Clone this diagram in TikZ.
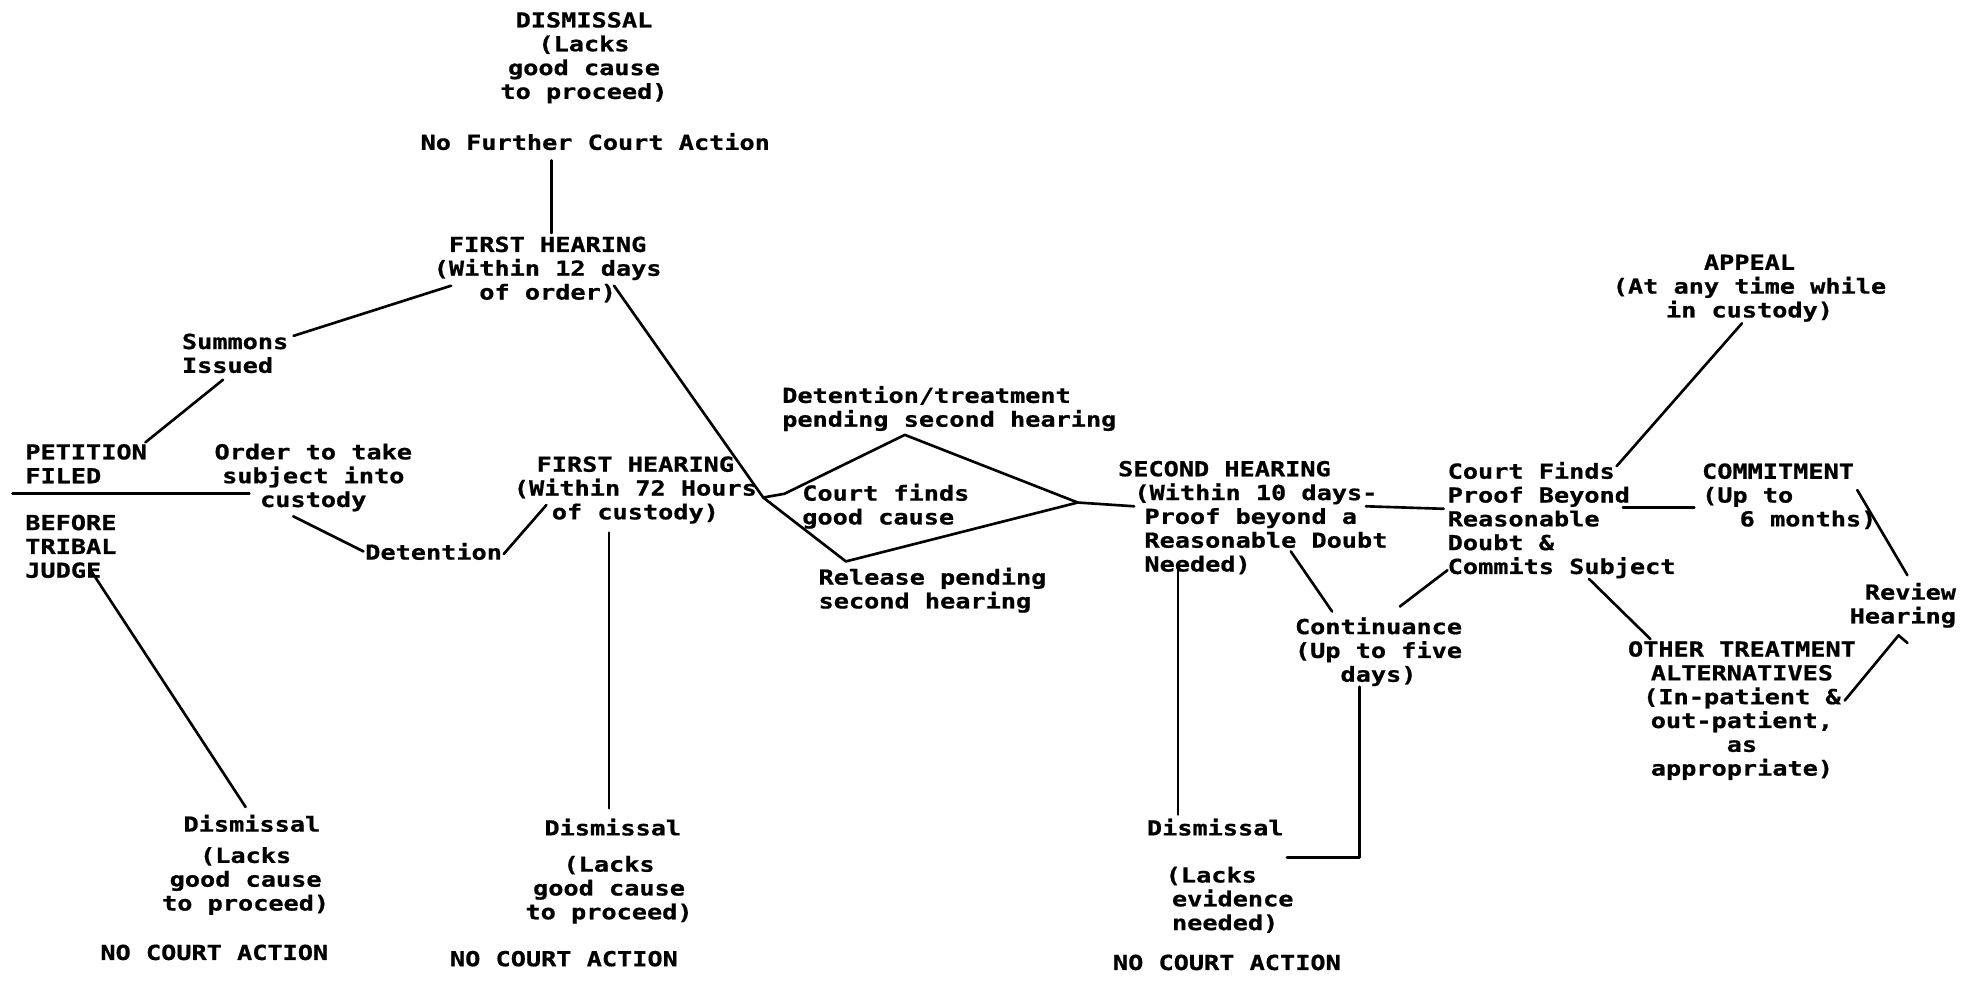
\documentclass[tikz,border=0pt]{standalone}
\usepackage{fontspec}
\newfontfamily\dm{DejaVu Sans Mono}[FakeStretch=1.22, BoldFeatures={FakeBold=0.8}]
\usetikzlibrary{calc}
\begin{document}
\begin{tikzpicture}[x=1pt,y=-1pt,
  txt/.style={font=\dm\bfseries\fontsize{16.5}{19}\selectfont, inner sep=0pt, align=center},
  txtl/.style={txt, align=left, anchor=west},
  ln/.style={line width=2.1pt, line cap=round, line join=round}]
\useasboundingbox[fill=white] (0,0) rectangle (1568,783);

% ---- texts
\node[txt] (dis1) at (466,46) {DISMISSAL\\(Lacks\\good cause\\to proceed)};
\node[txt] (nfca) at (475,113) {No Further Court Action};
\node[txt] (fh1) at (437,215) {FIRST HEARING\\(Within 12 days\\of order)};
\node[txtl] (summ) at (145,282) {Summons\\Issued};
\node[txtl] (pet) at (20,370) {PETITION\\FILED};
\node[txtl] (bef) at (20,436) {BEFORE\\TRIBAL\\JUDGE};
\node[txt] (order) at (250,381) {Order to take\\subject into\\custody};
\node[txt] (det) at (346,440) {Detention};
\node[txt] (fh2) at (507,391) {FIRST HEARING\\(Within 72 Hours\\of custody)};
\node[txt] (dis2) at (489,660) {Dismissal};
\node[txt] (lacks2) at (486,710) {(Lacks\\good cause\\to proceed)};
\node[txt] (nca2) at (450,765) {NO COURT ACTION};
\node[txt] (disL) at (201,657) {Dismissal};
\node[txt] (lacksL) at (196,703) {(Lacks\\good cause\\to proceed)};
\node[txt] (ncaL) at (171,760) {NO COURT ACTION};
\node[txtl] (dt) at (624,326) {Detention/treatment\\pending second hearing};
\node[txtl] (cf) at (640,404) {Court finds\\good cause};
\node[txtl] (rel) at (653,471) {Release pending\\second hearing};
\node[txtl] (sh) at (892,413) {SECOND HEARING\\\hspace*{13pt}(Within 10 days-\\\hspace*{21pt}Proof beyond a\\\hspace*{21pt}Reasonable Doubt\\\hspace*{21pt}Needed)};
\node[txtl] (dis3) at (915,660) {Dismissal};
\node[txtl] (lacks3) at (930,718) {(Lacks\\\hspace*{5pt}evidence\\\hspace*{5pt}needed)};
\node[txt] (nca3) at (979,768) {NO COURT ACTION};
\node[txt] (cont) at (1100,520) {Continuance\\(Up to five\\days)};
\node[txtl] (cfp) at (1155,415) {Court Finds\\Proof Beyond\\Reasonable\\Doubt \&\\Commits Subject};
\node[txt] (app) at (1396,230) {APPEAL\\(At any time while\\in custody)};
\node[txtl] (com) at (1358,396) {COMMITMENT\\(Up to\\\hspace*{30pt}6 months)};
\node[txt, align=right, anchor=east] (rev) at (1561,483) {Review\\Hearing};
\node[txt] (oth) at (1390,567) {OTHER TREATMENT\\ALTERNATIVES\\(In-patient \&\\out-patient,\\as\\appropriate)};

% ---- diamond vertices
\coordinate (L) at (609,397);
\coordinate (K) at (626,394);
\coordinate (T) at (722,347);
\coordinate (R) at (860,401);
\coordinate (B) at (675,448);
\coordinate (sepA) at ($(pet.west)+(-10,24)$);
\coordinate (sepB) at ($(pet.west)+(179,24)$);

% ---- connectors
\draw[ln] ($(nfca.center)+(-35,15)$) -- ($(fh1.center)+(3,-29)$);
\draw[ln] ($(summ.east)+(4,-14)$) -- ($(fh1.west)+(14,13)$);
\draw[ln] ($(summ.west)+(33,21)$) -- ($(pet.west)+(96,-17)$);
\draw[ln] (sepA) -- (sepB);
\draw[ln] ($(bef.west)+(53,20)$) -- ($(disL.center)+(-5,-13)$);
\draw[ln] ($(order.center)+(-16,31)$) -- ($(det.center)+(-56,0)$);
\draw[ln] ($(det.center)+(56,2)$) -- ($(fh2.center)+(-71,12)$);
\draw[ln] ($(fh2.center)+(-21,34)$) -- ($(dis2.center)+(-3,-15)$);
\draw[ln] ($(fh1.center)+(53,13)$) -- (L);
\draw[ln] (L) -- (K) -- (T) -- (R) -- (B) -- cycle;
\draw[ln] (R) -- ($(sh.west)+(13,-9)$);
\draw[ln] ($(sh.west)+(198,-9)$) -- ($(cfp.west)+(-3,-9)$);
\draw[ln] ($(sh.west)+(138,27)$) -- ($(cont.center)+(-37,-32)$);
\draw[ln] ($(sh.west)+(48,42)$) -- ($(dis3.west)+(25,-10)$);
\draw[ln] ($(cont.center)+(17,-36)$) -- ($(cfp.west)+(0,40)$);
\draw[ln] ($(cont.center)+(-15,28)$) |- ($(lacks3.west)+(97,-34)$);
\draw[ln] ($(cfp.west)+(135,-43)$) -- ($(app.center)+(-6,28)$);
\draw[ln] ($(cfp.west)+(140,-10)$) -- ($(com.west)+(-6,9)$);
\draw[ln] ($(com.west)+(124,-5)$) -- ($(rev.east)+(-39,-24)$);
\draw[ln] ($(cfp.west)+(113,47)$) -- ($(oth.center)+(-73,-57)$);
\draw[ln] ($(oth.center)+(82,-8)$) -- ($(rev.east)+(-46,24)$) -- ++(7,6);
\end{tikzpicture}
\end{document}
